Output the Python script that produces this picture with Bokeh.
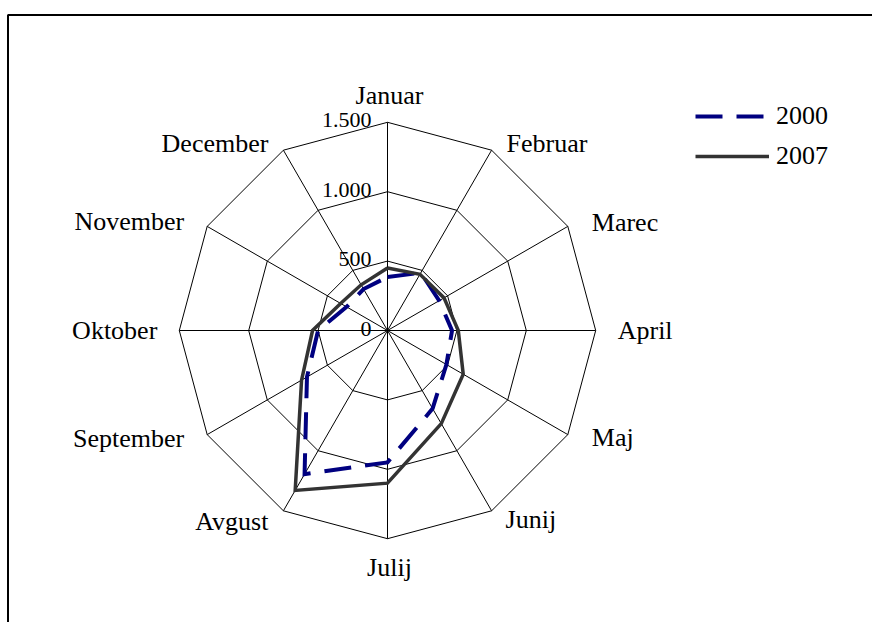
import numpy as np
from bokeh.plotting import figure
from bokeh.models import Range1d, Legend, LegendItem
from bokeh.embed import file_html
from bokeh.resources import INLINE

months = ["Januar", "Februar", "Marec", "April", "Maj", "Junij",
          "Julij", "Avgust", "September", "Oktober", "November", "December"]
v2000 = [385, 480, 430, 465, 490, 650, 950, 1195, 670, 500, 340, 345]
v2007 = [450, 468, 470, 510, 630, 775, 1100, 1330, 715, 540, 390, 380]
ticks = [0, 500, 1000, 1500]
tick_labels = ["0", "500", "1.000", "1.500"]
series_names = ["2000", "2007"]

FONT = "Liberation Serif"
W, H = 872, 622
CX, CY = 387, 330          # chart centre in canvas pixels
S = 0.1388                 # pixels per data unit
RMAX = 1500

p = figure(width=W, height=H,
           x_range=Range1d(-CX / S, (W - CX) / S),
           y_range=Range1d(-(H - CY) / S, CY / S),
           output_backend="svg", toolbar_location=None,
           x_axis_type=None, y_axis_type=None, min_border=0,
           outline_line_color=None)
p.xgrid.visible = False
p.ygrid.visible = False

n = len(months)
theta = np.arange(n) * 2 * np.pi / n
sn, cs = np.sin(theta), np.cos(theta)

# frame border (top and left visible)
xl = (7.5 - CX) / S
yt = (CY - 14.5) / S
p.line([xl, xl, (W - CX) / S + 5], [-(H - CY) / S - 5, yt, yt],
       line_color="black", line_width=2)

# grid rings
for t in ticks[1:]:
    xs = list(t * sn) + [t * sn[0]]
    ys = list(t * cs) + [t * cs[0]]
    p.line(xs, ys, line_color="black", line_width=1)
# spokes
p.segment(x0=[0] * n, y0=[0] * n, x1=list(RMAX * sn), y1=list(RMAX * cs),
          line_color="black", line_width=1)

# series
def closed(vals):
    v = np.array(vals, dtype=float)
    return list(v * sn) + [v[0] * sn[0]], list(v * cs) + [v[0] * cs[0]]

x0, y0 = closed(v2000)
r2000 = p.line(x0, y0, line_color="#000080", line_width=4, line_dash="27 14",
               line_join="miter")
x7, y7 = closed(v2007)
r2007 = p.line(x7, y7, line_color="#333333", line_width=3.5, line_join="miter")

# radial tick labels
p.text(x=[-16 / S] * len(ticks), y=[t + 2 / S for t in ticks], text=tick_labels,
       text_align="right", text_baseline="middle", text_font=FONT,
       text_font_size="22px", text_color="black")

# category labels (pixel offsets from outer ring vertex; +x right, +y down)
offs = [(2, -27), (15, -7), (24, -4), (22, 0), (24, 3), (14, 9),
        (2, 29), (-15, 11), (-23, 4), (-22, 0), (-23, -5), (-15, -7)]
aligns = ["center", "left", "left", "left", "left", "left",
          "center", "right", "right", "right", "right", "right"]
lx = [RMAX * sn[i] + offs[i][0] / S for i in range(n)]
ly = [RMAX * cs[i] - offs[i][1] / S for i in range(n)]
for i in range(n):
    p.text(x=[lx[i]], y=[ly[i]], text=[months[i]], text_align=aligns[i],
           text_baseline="middle", text_font=FONT, text_font_size="26px",
           text_color="black")

legend = Legend(items=[LegendItem(label=series_names[0], renderers=[r2000]),
                       LegendItem(label=series_names[1], renderers=[r2007])],
                location=(695, 451), glyph_width=74, glyph_height=30,
                label_height=30, spacing=10, padding=0, margin=0,
                label_standoff=7, border_line_color=None,
                background_fill_alpha=0, label_text_font=FONT,
                label_text_font_size="26px", label_text_color="black")
p.add_layout(legend)

open("out.html", "w").write(file_html(p, INLINE))
